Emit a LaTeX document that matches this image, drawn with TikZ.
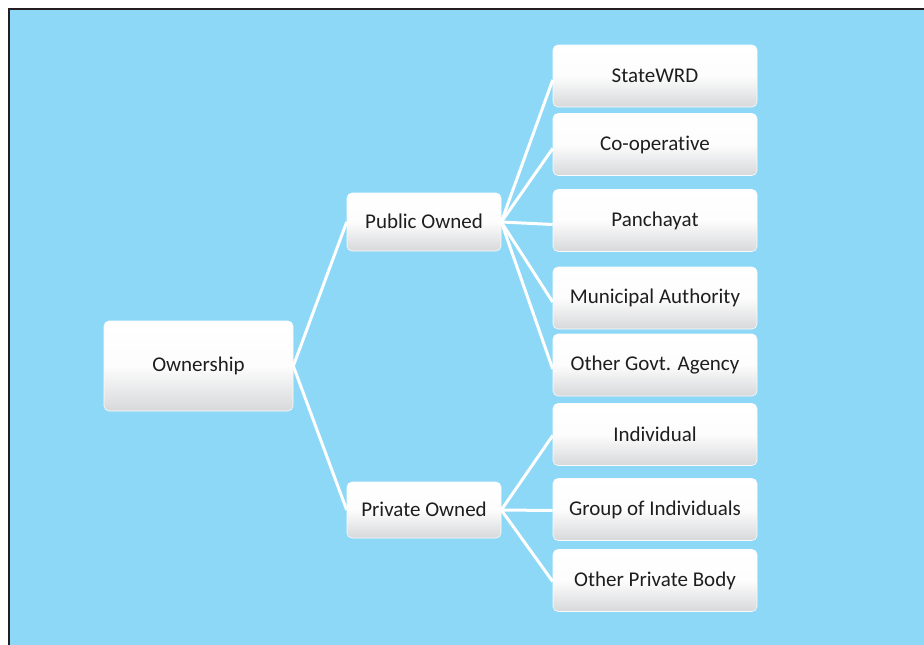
\documentclass[tikz,border=0pt]{standalone}
\usepackage{fontspec}
\setmainfont{Carlito}[Ligatures=NoCommon]
\definecolor{bgblue}{RGB}{141,216,246}
\definecolor{txt}{RGB}{30,30,30}
\definecolor{boxbot}{RGB}{215,216,218}
\definecolor{frame}{RGB}{35,31,32}
\tikzset{
  box/.style={rectangle, rounded corners=5pt, top color=white, bottom color=boxbot,
    middle color=white!94!boxbot, shading angle=0, text=txt, font=\fontsize{21}{24}\selectfont,
    inner sep=0pt, draw=white!92!boxbot, line width=0.6pt},
  leaf/.style={box, minimum width=204pt, minimum height=62pt},
  mid/.style={box, minimum width=154pt},
  conn/.style={draw=white, line width=3pt}
}
\begin{document}
\begin{tikzpicture}[x=1pt,y=-1pt]
\useasboundingbox (0,0) rectangle (924,645);
\fill[white] (0,0) rectangle (924,645);
\fill[bgblue] (8,8) rectangle (924,645);
\draw[frame, line width=2pt] (9,645) -- (9,9) -- (924,9);

\node[box, minimum width=189pt, minimum height=90pt] (own) at (198.5,366) {\raisebox{2pt}{Ownership}};
\node[mid, minimum height=58pt] (pub) at (424,222) {\raisebox{2pt}{Public Owned}};
\node[mid, minimum height=56pt] (pri) at (424,510) {\raisebox{2pt}{Private Owned}};

\node[leaf] (swrd) at (655,76) {StateWRD};
\node[leaf] (coop) at (655,144.5) {\raisebox{2pt}{Co-operative}};
\node[leaf] (panch) at (655,220.5) {\raisebox{2pt}{Panchayat}};
\node[leaf] (muni) at (655,298) {Municipal Authority};
\node[leaf] (ogov) at (655,365) {Other Govt. Agency};
\node[leaf] (indiv) at (655,434.5) {Individual};
\node[leaf] (group) at (655,509.5) {Group of Individuals};
\node[leaf] (opriv) at (655,580.5) {Other Private Body};

\draw[conn] (own.east) -- (pub.west);
\draw[conn] (own.east) -- (pri.west);
\foreach \c in {swrd,coop,panch,muni,ogov}
  \draw[conn] (pub.east) -- ([yshift=-4pt]\c.west);
\foreach \c in {indiv,group,opriv}
  \draw[conn] (pri.east) -- ([yshift=-1pt]\c.west);
\end{tikzpicture}
\end{document}
